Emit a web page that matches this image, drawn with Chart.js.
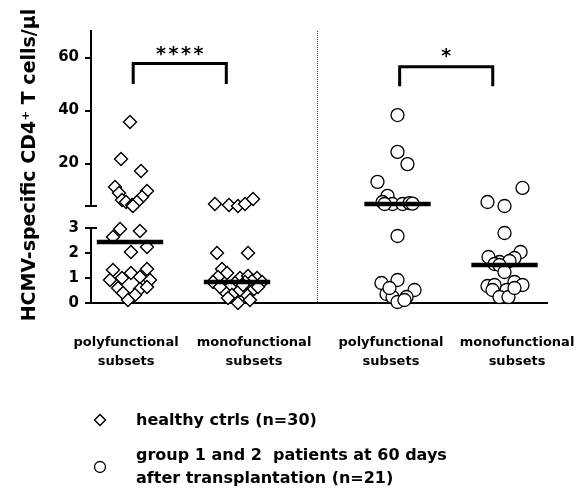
<!DOCTYPE html>
<html><head><meta charset="utf-8">
<script src="https://cdn.jsdelivr.net/npm/chart.js@4.4.1/dist/chart.umd.min.js"></script>
<style>
html,body{margin:0;padding:0;background:#fff;}
#wrap{position:relative;width:579px;height:492px;overflow:hidden;}
canvas{position:absolute;left:0;top:0;}
.lg{position:absolute;font:bold 16px "DejaVu Sans";line-height:23px;color:#000;white-space:pre;}
.mk{position:absolute;}
</style></head>
<body>
<div id="wrap">
<canvas id="c" width="579" height="492"></canvas>
<svg class="mk" style="left:93px;top:413px" width="14" height="14"><polygon points="7,1.5 12.5,7 7,12.5 1.5,7" fill="#fff" stroke="#000" stroke-width="1.5"/></svg>
<div class="lg" style="left:136px;top:408px">healthy ctrls (n=30)</div>
<svg class="mk" style="left:93px;top:460px" width="14" height="14"><circle cx="7" cy="7" r="5.5" fill="#fff" stroke="#000" stroke-width="1.3"/></svg>
<div class="lg" style="left:136px;top:443px">group 1 and 2  patients at 60 days
after transplantation (n=21)</div>
</div>
<script>
// ---- data ----
const categories = [['polyfunctional','subsets'],['monofunctional','subsets'],['polyfunctional','subsets'],['monofunctional','subsets']];
const categoryPositions = [1, 2, 3.5, 4.5];
const categoryLabelPositions = [0.963, 2.159, 3.439, 4.617];
const dividerPosition = 2.75;

const lowerRange = [0, 3];
const upperRange = [4, 70];
const lowerTicks = [0, 1, 2, 3];
const upperTicks = [20, 40, 60];

// healthy controls (n=30), diamonds
const healthyPolyValues = [35.7, 21.7, 17.2, 11.2, 8.9, 9.7, 7.4, 6.3, 5.5, 4.4, 5.5, 4.0,
  2.96, 2.88, 2.64, 2.04, 2.24, 1.32, 1.36, 1.2, 1.0, 1.04, 0.92, 0.92, 0.6, 0.56, 0.4, 0.32, 0.12, 0.64];
const healthyPolyJitter = [0, -0.084, 0.103, -0.14, -0.103, 0.159, 0.112, -0.075, -0.037, 0.019, 0.065, 0.028,
  -0.093, 0.093, -0.159, 0.009, 0.159, -0.159, 0.159, 0.009, -0.075, 0.093, -0.187, 0.187, -0.112, 0.093, -0.065, 0.047, -0.019, 0.159];
const healthyMonoValues = [4.75, 4.4, 4.0, 4.75, 6.6,
  2.0, 2.0, 1.36, 1.2, 1.04, 1.0, 1.08, 1.0, 0.88, 0.84, 0.8, 0.84, 0.64, 0.84, 0.44, 0.52, 0.32, 0.32, 0.0, 0.64, 0.64, 0.52, 0.2, 0.12, 0.72];
const healthyMonoJitter = [-0.206, -0.075, 0.009, 0.075, 0.15,
  -0.187, 0.103, -0.14, -0.093, -0.178, 0.028, 0.103, 0.187, 0.14, -0.224, -0.019, 0.075, -0.065, 0.234, -0.112, 0.15, -0.047, 0.093, 0.009, -0.159, 0.196, 0.028, -0.084, 0.121, 0.056];

// patients (n=21), circles
const patientPolyValues = [38.3, 24.4, 19.8, 13.1, 7.8, 5.5, 4.75, 4.75, 5.1, 4.9, 4.75,
  2.68, 0.92, 0.8, 0.52, 0.36, 0.24, 0.24, 0.04, 0.6, 0.12];
const patientPolyJitter = [0, 0, 0.093, -0.187, -0.093, -0.14, -0.047, 0.047, 0.112, 0.14, -0.121,
  0, 0, -0.15, 0.159, -0.103, -0.047, 0.084, 0, -0.075, 0.065];
const patientMonoValues = [10.8, 5.5, 4.0,
  2.8, 2.04, 1.84, 1.8, 1.64, 1.68, 1.56, 1.52, 1.24, 0.68, 0.72, 0.84, 0.72, 0.52, 0.52, 0.24, 0.24, 0.6];
const patientMonoJitter = [0.168, -0.159, 0,
  0, 0.15, -0.15, 0.093, -0.047, 0.047, -0.093, -0.047, 0, -0.159, -0.093, 0.093, 0.168, 0.019, -0.112, -0.047, 0.037, 0.093];

const medianValues = [2.44, 0.84, 4.75, 1.52];
const medianHalfWidth = 0.31;

const brackets = [
  {from: 1.03, to: 1.9, top: 57.7, leg: 50, label: '****', labelY: 62.3},
  {from: 3.52, to: 4.39, top: 56.5, leg: 49.2, label: '*', labelY: 61.6}
];

// ---- build ----
const FONT = 'DejaVu Sans';
function segPoints(values, jitter, catIndex, upper) {
  const out = [];
  values.forEach((v, i) => {
    const isUpper = v >= upperRange[0];
    if (isUpper === upper) out.push({x: categoryPositions[catIndex] + jitter[i], y: v});
  });
  return out;
}
const pointStyleDiamond = {pointStyle: 'rectRot', pointRadius: 6.5, pointBorderWidth: 1.4, pointBorderColor: '#000', pointBackgroundColor: '#fff', showLine: false, order: 1, clip: false};
const pointStyleCircle = {pointStyle: 'circle', pointRadius: 6.5, pointBorderWidth: 1.3, pointBorderColor: '#000', pointBackgroundColor: '#fff', showLine: false, order: 1, clip: false};

const datasets = [];
datasets.push(Object.assign({label: 'healthy upper', yAxisID: 'yHigh', data: segPoints(healthyPolyValues, healthyPolyJitter, 0, true).concat(segPoints(healthyMonoValues, healthyMonoJitter, 1, true))}, pointStyleDiamond));
datasets.push(Object.assign({label: 'healthy lower', yAxisID: 'yLow', data: segPoints(healthyPolyValues, healthyPolyJitter, 0, false).concat(segPoints(healthyMonoValues, healthyMonoJitter, 1, false))}, pointStyleDiamond));
datasets.push(Object.assign({label: 'patients upper', yAxisID: 'yHigh', data: segPoints(patientPolyValues, patientPolyJitter, 2, true).concat(segPoints(patientMonoValues, patientMonoJitter, 3, true))}, pointStyleCircle));
datasets.push(Object.assign({label: 'patients lower', yAxisID: 'yLow', data: segPoints(patientPolyValues, patientPolyJitter, 2, false).concat(segPoints(patientMonoValues, patientMonoJitter, 3, false))}, pointStyleCircle));

medianValues.forEach((m, i) => {
  const c = categoryPositions[i];
  datasets.push({type: 'line', label: 'median ' + i, yAxisID: m >= upperRange[0] ? 'yHigh' : 'yLow',
    data: [{x: c - medianHalfWidth, y: m}, {x: c + medianHalfWidth, y: m}],
    borderColor: '#000', borderWidth: 4.5, pointRadius: 0, showLine: true, order: 0, clip: false, borderCapStyle: 'butt'});
});
brackets.forEach((b, i) => {
  datasets.push({type: 'line', label: 'bracket ' + i, yAxisID: 'yHigh',
    data: [{x: b.from, y: b.leg}, {x: b.from, y: b.top}, {x: b.to, y: b.top}, {x: b.to, y: b.leg}],
    borderColor: '#000', borderWidth: 3, pointRadius: 0, showLine: true, order: 0, clip: false, tension: 0, borderJoinStyle: 'miter'});
});

const yWidth = 91;
const tickFont = {family: FONT, size: 15, weight: 'bold'};

const extras = {
  id: 'extras',
  beforeDatasetsDraw(chart) {
    const {ctx, chartArea} = chart;
    const xs = chart.scales.x;
    const px = Math.round(xs.getPixelForValue(dividerPosition)) + 0.5;
    ctx.save();
    ctx.strokeStyle = '#444';
    ctx.lineWidth = 1;
    ctx.setLineDash([1, 1]);
    ctx.beginPath();
    ctx.moveTo(px, chartArea.top);
    ctx.lineTo(px, chartArea.bottom);
    ctx.stroke();
    ctx.restore();
  },
  afterDraw(chart) {
    const {ctx, chartArea} = chart;
    const xs = chart.scales.x, yh = chart.scales.yHigh, yl = chart.scales.yLow;
    ctx.save();
    // axis break caps
    ctx.strokeStyle = '#000';
    ctx.lineWidth = 2;
    const axisX = chartArea.left;
    const yCapHigh = yh.getPixelForValue(upperRange[0]);
    const yCapLow = yl.getPixelForValue(lowerRange[1]);
    ctx.beginPath();
    ctx.moveTo(axisX - 6, yCapHigh); ctx.lineTo(axisX + 6, yCapHigh);
    ctx.moveTo(axisX - 1, yCapLow); ctx.lineTo(axisX + 6, yCapLow);
    ctx.stroke();
    // y title
    ctx.fillStyle = '#000';
    ctx.font = 'bold 19px "' + FONT + '"';
    ctx.textAlign = 'center';
    ctx.textBaseline = 'alphabetic';
    ctx.translate(35, 165);
    ctx.rotate(-Math.PI / 2);
    ctx.fillText('HCMV-specific CD4\u207A T cells/\u03BCl', 0, 0);
    ctx.restore();
    // significance stars
    ctx.save();
    ctx.fillStyle = '#000';
    ctx.font = 'bold 19px "' + FONT + '"';
    ctx.textAlign = 'center';
    ctx.textBaseline = 'middle';
    brackets.forEach(b => {
      const cx = xs.getPixelForValue((b.from + b.to) / 2);
      const cy = yh.getPixelForValue(b.labelY) + 4;
      const n = b.label.length, step = 12.5;
      for (let k = 0; k < n; k++) {
        ctx.fillText(b.label[k], cx + (k - (n - 1) / 2) * step, cy);
      }
    });
    ctx.restore();
  }
};

new Chart(document.getElementById('c'), {
  type: 'scatter',
  data: {datasets},
  plugins: [extras],
  options: {
    responsive: false,
    animation: false,
    devicePixelRatio: 1,
    events: [],
    layout: {padding: {left: 0, top: 31, right: 32, bottom: 0}},
    plugins: {legend: {display: false}, tooltip: {enabled: false}},
    scales: {
      x: {
        type: 'linear', position: 'bottom', min: 0.6355, max: 4.897,
        grid: {display: false, drawTicks: false},
        border: {display: true, color: '#000', width: 2},
        afterBuildTicks: s => { s.ticks = categoryLabelPositions.map(v => ({value: v})); },
        afterFit: s => { s.height = 189; s.paddingLeft = 0; s.paddingRight = 0; },
        ticks: {padding: 30, color: '#000', autoSkip: false, maxRotation: 0,
          font: {family: FONT, size: 13, weight: 'bold', lineHeight: 1.45},
          callback: (v, i) => categories[i]}
      },
      yLow: {
        type: 'linear', position: 'left', stack: 'y', stackWeight: 75,
        min: lowerRange[0], max: lowerRange[1],
        afterBuildTicks: s => { s.ticks = lowerTicks.map(v => ({value: v})); },
        afterFit: s => { s.width = yWidth; },
        grid: {display: true, drawOnChartArea: false, drawTicks: true, tickLength: 6, color: '#000', lineWidth: 2},
        border: {display: true, color: '#000', width: 2},
        ticks: {padding: 6, color: '#000', font: tickFont}
      },
      yGap: {
        type: 'linear', position: 'left', stack: 'y', stackWeight: 22,
        min: 0, max: 1,
        afterFit: s => { s.width = yWidth; },
        grid: {display: false, drawTicks: false},
        border: {display: false},
        ticks: {display: false}
      },
      yHigh: {
        type: 'linear', position: 'left', stack: 'y', stackWeight: 175,
        min: upperRange[0], max: upperRange[1],
        afterBuildTicks: s => { s.ticks = upperTicks.map(v => ({value: v})); },
        afterFit: s => { s.width = yWidth; },
        grid: {display: true, drawOnChartArea: false, drawTicks: true, tickLength: 6, color: '#000', lineWidth: 2},
        border: {display: true, color: '#000', width: 2},
        ticks: {padding: 6, color: '#000', font: tickFont}
      }
    }
  }
});
</script>
</body></html>
